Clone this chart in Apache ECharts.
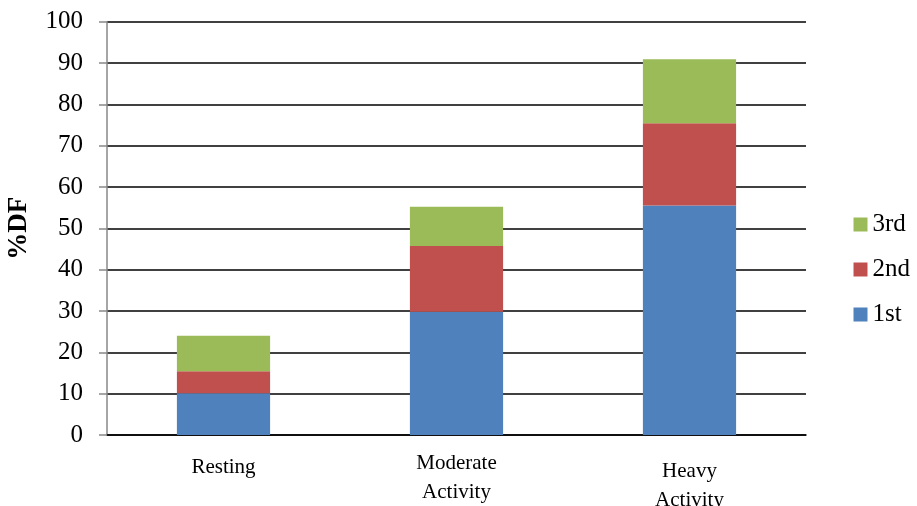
<!DOCTYPE html>
<html>
<head>
<meta charset="utf-8">
<script src="https://cdn.jsdelivr.net/npm/echarts@6/dist/echarts.min.js"></script>
<style>
  html, body { margin: 0; padding: 0; background: #fff; }
  #chart { width: 917px; height: 506px; }
</style>
</head>
<body>
<div id="chart"></div>
<script>
// Activity levels on the x axis
const categories = ['Resting', 'Moderate\nActivity', 'Heavy\nActivity'];

// Stacked %DF contributions per component
const first  = [10.1, 29.8, 55.5];
const second = [5.3, 15.9, 19.9];
const third  = [8.6, 9.5, 15.5];

const seriesNames = ['1st', '2nd', '3rd'];
const legendOrder = ['3rd', '2nd', '1st'];
const yTicks = [0, 10, 20, 30, 40, 50, 60, 70, 80, 90, 100];

const colors = { '1st': '#4F81BD', '2nd': '#C0504D', '3rd': '#9BBB59' };
// extra top padding per category label (two-line labels sit lower)
const labelPad = [4, 0, 8];

const serif = '"Liberation Serif", "Times New Roman", serif';
const chart = echarts.init(document.getElementById('chart'));

const values = { '1st': first, '2nd': second, '3rd': third };

chart.setOption({
  animation: false,
  backgroundColor: '#fff',
  grid: {
    left: 107, right: 111, top: 21.7, bottom: 71,
    containLabel: false, outerBoundsMode: 'none'
  },
  legend: {
    orient: 'vertical',
    right: 2,
    top: 207,
    itemWidth: 14,
    itemHeight: 14,
    itemGap: 20,
    icon: 'rect',
    data: legendOrder,
    textStyle: { fontFamily: serif, fontSize: 25, color: '#000' }
  },
  xAxis: {
    type: 'category',
    data: categories.map((c, i) => ({ value: c, textStyle: { padding: [labelPad[i], 0, 0, 0] } })),
    axisLine: { lineStyle: { color: '#000', width: 1.5 } },
    axisTick: { show: false },
    axisLabel: {
      fontFamily: serif, fontSize: 21, color: '#000',
      margin: 14, lineHeight: 29, interval: 0
    }
  },
  yAxis: {
    type: 'value',
    min: yTicks[0],
    max: yTicks[yTicks.length - 1],
    interval: yTicks[1] - yTicks[0],
    name: '%DF',
    nameLocation: 'middle',
    nameGap: 74,
    nameTextStyle: { fontFamily: serif, fontSize: 27, fontWeight: 'bold', color: '#000' },
    axisLine: { show: true, lineStyle: { color: '#888', width: 1.5 } },
    axisTick: { show: true, length: 8, lineStyle: { color: '#888', width: 1.5 } },
    axisLabel: { fontFamily: serif, fontSize: 25, color: '#000', margin: 24 },
    splitLine: { lineStyle: { color: '#000', width: 1.5 } }
  },
  series: seriesNames.map(n => ({
    name: n,
    type: 'bar',
    stack: 'total',
    barWidth: '40%',
    itemStyle: { color: colors[n] },
    data: values[n]
  }))
});
</script>
</body>
</html>
